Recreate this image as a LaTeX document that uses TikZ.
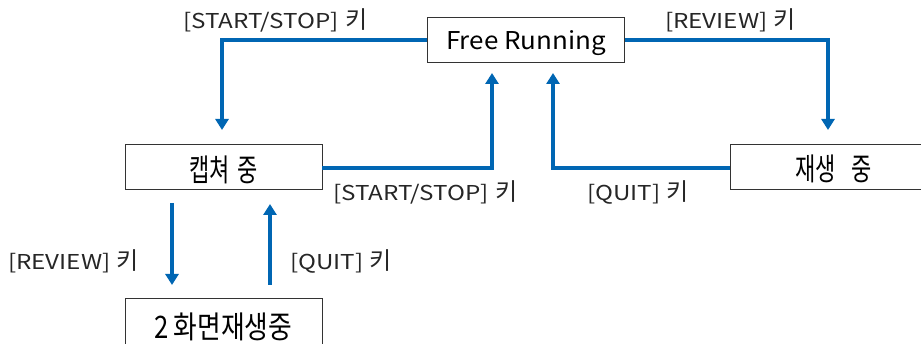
\documentclass[tikz,border=0pt]{standalone}
\usepackage{fontspec}
\setmainfont{Noto Sans CJK KR}
\newfontfamily\latlab[FakeStretch=1.18]{Noto Sans CJK KR}
\newfontfamily\latbox[FakeStretch=1.06]{Noto Sans CJK KR}
\newfontfamily\krA[FakeStretch=0.71]{Noto Sans CJK KR}
\newfontfamily\krB[FakeStretch=0.83]{Noto Sans CJK KR}
\usetikzlibrary{arrows.meta}
\definecolor{flowblue}{HTML}{0066B3}
\definecolor{boxgray}{HTML}{333333}
\newcommand{\keytext}[1]{{\latlab\fontsize{20.5}{22}\selectfont #1}\hspace{6pt}{\fontsize{24}{26}\selectfont 키}}
\tikzset{
  statebox/.style={draw=boxgray, line width=0.9pt, fill=white, minimum width=197pt, inner xsep=0pt, inner ysep=0pt, anchor=base},
  keylabel/.style={inner sep=0pt, anchor=base west, text=black!85},
  flow/.style={draw=flowblue, line width=4pt, -{Triangle[width=13pt,length=11pt]}}
}
\begin{document}
\begin{tikzpicture}[x=1pt,y=-1pt]
\useasboundingbox (0,0) rectangle (921,344);
\clip (0,0) rectangle (921,344);
\node[statebox, text height=33pt, text depth=12pt, font=\latbox\fontsize{24.5}{26}\selectfont] (free) at (526,50) {Free Running};
\node[statebox, text height=37.5pt, text depth=7.5pt, font=\krA\fontsize{31}{32}\selectfont] (cap) at (223.5,181.5) {캡쳐\hspace{7.5pt}중\hspace{14pt}};
\node[statebox, text height=36.5pt, text depth=8.5pt, font=\krA\fontsize{31}{32}\selectfont] (play) at (828.5,180.5) {\hspace{10pt}재생\hspace{15pt}중};
\node[statebox, text height=40.5pt, text depth=10pt, font=\krB\fontsize{31}{32}\selectfont] (dual) at (223.5,338.5) {2\hspace{5pt}화면재생중};
\coordinate (t1) at (222,130);
\coordinate (t2) at (492,73);
\coordinate (t3) at (553,73);
\coordinate (t4) at (828,130);
\coordinate (s5) at (172,203);
\coordinate (t5) at (172,285);
\coordinate (s6) at (270,285);
\coordinate (t6) at (270,204);
\draw[flow] (free.west |- 0,40) -| (t1);
\draw[flow] (cap.east |- 0,168) -| (t2);
\draw[flow] (play.west |- 0,168) -| (t3);
\draw[flow] (free.east |- 0,40) -| (t4);
\draw[flow] (s5) -- (t5);
\draw[flow] (s6) -- (t6);
\node[keylabel] (l1) at (183,29) {\keytext{[START/STOP]}};
\node[keylabel] (l4) at (665,29) {\keytext{[REVIEW]}};
\node[keylabel] (l2) at (333,201) {\keytext{[START/STOP]}};
\node[keylabel] (l3) at (587,201) {\keytext{[QUIT]}};
\node[keylabel] (l5) at (8,270) {\keytext{[REVIEW]}};
\node[keylabel] (l6) at (290,270) {\keytext{[QUIT]}};
\end{tikzpicture}
\end{document}
